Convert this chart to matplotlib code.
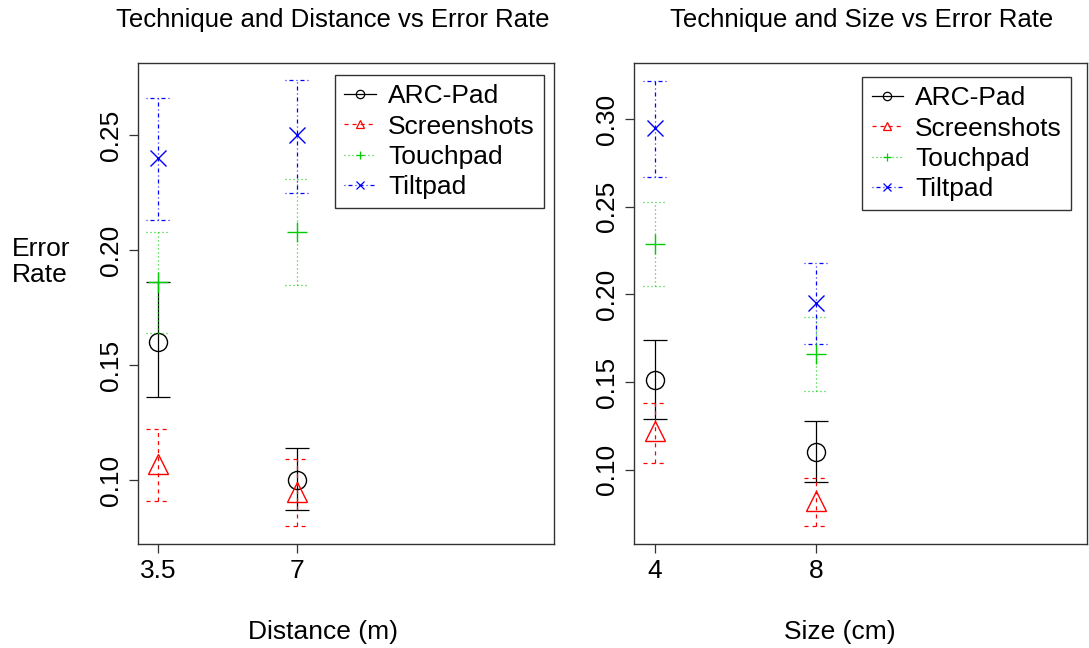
import matplotlib
matplotlib.use("Agg")
import matplotlib.pyplot as plt
from matplotlib.lines import Line2D
import numpy as np

plt.rcParams['font.family'] = ['Liberation Sans', 'DejaVu Sans']
plt.rcParams['lines.scale_dashes'] = False

# data
techniques = ['ARC-Pad', 'Screenshots', 'Touchpad', 'Tiltpad']

distance = [3.5, 7]
dist_mean = {'ARC-Pad': [0.160, 0.100], 'Screenshots': [0.107, 0.095],
             'Touchpad': [0.186, 0.208], 'Tiltpad': [0.240, 0.250]}
dist_lo = {'ARC-Pad': [0.136, 0.087], 'Screenshots': [0.091, 0.080],
           'Touchpad': [0.164, 0.185], 'Tiltpad': [0.213, 0.225]}
dist_hi = {'ARC-Pad': [0.186, 0.114], 'Screenshots': [0.122, 0.109],
           'Touchpad': [0.208, 0.231], 'Tiltpad': [0.266, 0.274]}

size = [4, 8]
size_mean = {'ARC-Pad': [0.151, 0.110], 'Screenshots': [0.122, 0.082],
             'Touchpad': [0.229, 0.166], 'Tiltpad': [0.295, 0.195]}
size_lo = {'ARC-Pad': [0.129, 0.093], 'Screenshots': [0.104, 0.068],
           'Touchpad': [0.205, 0.145], 'Tiltpad': [0.267, 0.172]}
size_hi = {'ARC-Pad': [0.174, 0.128], 'Screenshots': [0.138, 0.095],
           'Touchpad': [0.253, 0.187], 'Tiltpad': [0.322, 0.218]}

# R-like styles
colors = {'ARC-Pad': 'black', 'Screenshots': '#FF0000',
          'Touchpad': '#00CD00', 'Tiltpad': '#0000FF'}
markers = {'ARC-Pad': 'o', 'Screenshots': '^', 'Touchpad': '+', 'Tiltpad': 'x'}
msizes = {'ARC-Pad': 13, 'Screenshots': 15, 'Touchpad': 15, 'Tiltpad': 11}
lstyles = {'ARC-Pad': '-', 'Screenshots': (0, (2.9, 2.9)),
           'Touchpad': (0, (0.72, 2.16)), 'Tiltpad': (0, (0.72, 2.16, 2.88, 2.16))}
LW = 0.9
CAP = 0.3

fig = plt.figure(figsize=(10.89, 6.48), dpi=100)
ax1 = fig.add_axes([138/1089, 1-544/648, 416/1089, 481/648])
ax2 = fig.add_axes([634/1089, 1-544/648, 453/1089, 481/648])


def draw(ax, xs, mean, lo, hi):
    xs = np.array(xs, dtype=float)
    for t in techniques:
        c = colors[t]
        ls = lstyles[t]
        ax.vlines(xs, lo[t], hi[t], colors=c, linestyles=[ls], linewidth=LW)
        ax.hlines(lo[t], xs - CAP, xs + CAP, colors=c, linestyles=[ls], linewidth=LW)
        ax.hlines(hi[t], xs - CAP, xs + CAP, colors=c, linestyles=[ls], linewidth=LW)
        ax.plot(xs, mean[t], linestyle='none', marker=markers[t], ms=msizes[t],
                mfc='none', mec=c, mew=1.0)
    handles = [Line2D([0], [0], color=colors[t], linestyle=lstyles[t], lw=LW,
                      marker=markers[t], ms=6, mfc='none', mec=colors[t], mew=0.9)
               for t in techniques]
    return handles


h = draw(ax1, distance, dist_mean, dist_lo, dist_hi)
draw(ax2, size, size_mean, size_lo, size_hi)

ax1.set_xlim(2.996, 13.47)
ax1.set_ylim(0.0722, 0.2814)
ax2.set_xlim(3.478, 14.73)
ax2.set_ylim(0.0576, 0.3321)

ax1.set_xticks(distance)
ax1.set_xticklabels(['3.5', '7'])
ax1.set_yticks([0.10, 0.15, 0.20, 0.25])
ax2.set_xticks(size)
ax2.set_xticklabels(['4', '8'])
ax2.set_yticks([0.10, 0.15, 0.20, 0.25, 0.30])

for ax in (ax1, ax2):
    ax.yaxis.set_major_formatter(plt.FormatStrFormatter('%.2f'))
    ax.tick_params(direction='out', length=6.5, width=0.9, labelsize=19,
                   color='#333333', pad=4)
    for lab in ax.get_yticklabels():
        lab.set_rotation(90)
        lab.set_va('center')
    for s in ax.spines.values():
        s.set_color('#333333')
        s.set_linewidth(1.0)

leg_kw = dict(loc='upper right', fontsize=19, frameon=True, fancybox=False,
              handlelength=1.2, handletextpad=0.45, labelspacing=0.24,
              borderpad=0.35, borderaxespad=0)
l1 = ax1.legend(h, techniques, bbox_to_anchor=(0.976, 0.975), **leg_kw)
l2 = ax2.legend(h, techniques, bbox_to_anchor=(0.965, 0.971), **leg_kw)
for l in (l1, l2):
    l.get_frame().set_edgecolor('black')
    l.get_frame().set_linewidth(1.0)

fig.text(333/1089, 1-20/648, 'Technique and Distance vs Error Rate',
         ha='center', va='center', fontsize=18.5)
fig.text(862/1089, 1-20/648, 'Technique and Size vs Error Rate',
         ha='center', va='center', fontsize=18.5)
fig.text(323/1089, 1-632/648, 'Distance (m)', ha='center', va='center', fontsize=19)
fig.text(840/1089, 1-632/648, 'Size (cm)', ha='center', va='center', fontsize=19)
fig.text(12/1089, 1-262/648, 'Error\nRate', ha='left', va='center',
         fontsize=19, linespacing=1.1)

fig.savefig('out.png', dpi=100)
